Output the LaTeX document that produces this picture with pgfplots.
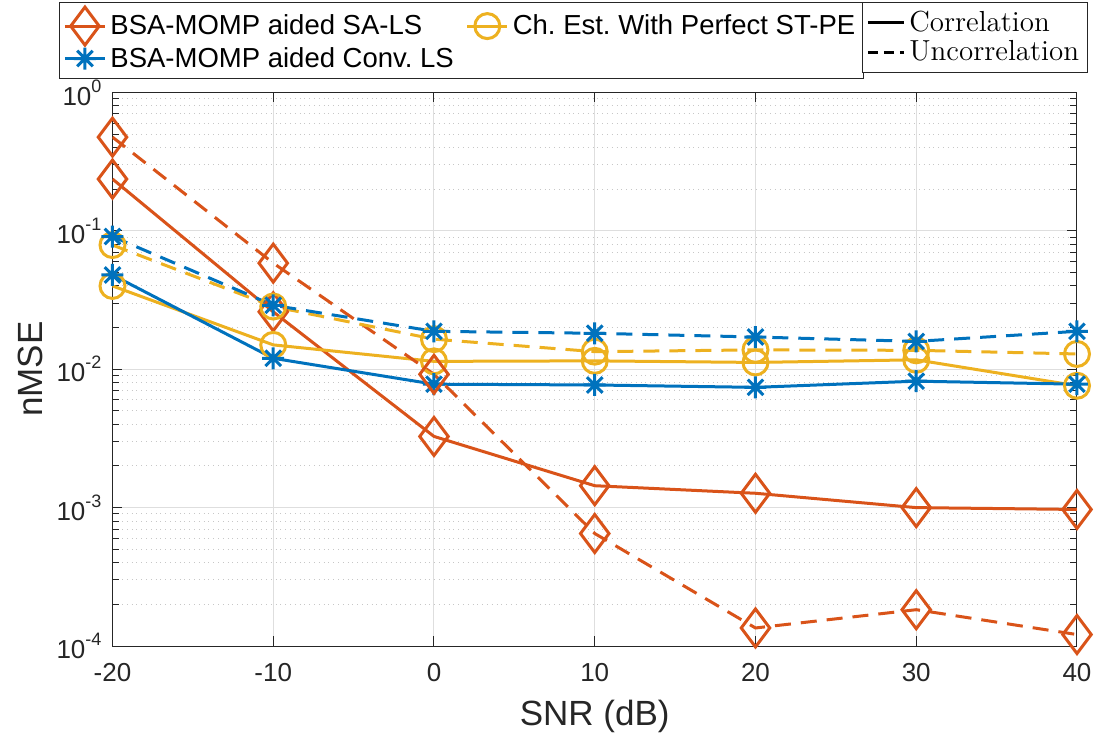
\documentclass[border=0pt]{standalone}
\usepackage{pgfplots}
\pgfplotsset{compat=1.18}
\usepackage{fontspec}
\newfontfamily\arial{Liberation Sans}
\definecolor{mblue}{rgb}{0,0.447,0.741}
\definecolor{mred}{rgb}{0.85,0.325,0.098}
\definecolor{myel}{rgb}{0.929,0.694,0.125}
\definecolor{axc}{rgb}{0.15,0.15,0.15}
\pgfdeclareplotmark{mstar}{%
  \pgfpathmoveto{\pgfqpoint{0pt}{\pgfplotmarksize}}\pgfpathlineto{\pgfqpoint{0pt}{-\pgfplotmarksize}}%
  \pgfpathmoveto{\pgfqpoint{\pgfplotmarksize}{0pt}}\pgfpathlineto{\pgfqpoint{-\pgfplotmarksize}{0pt}}%
  \pgfpathmoveto{\pgfqpoint{0.7071\pgfplotmarksize}{0.7071\pgfplotmarksize}}\pgfpathlineto{\pgfqpoint{-0.7071\pgfplotmarksize}{-0.7071\pgfplotmarksize}}%
  \pgfpathmoveto{\pgfqpoint{0.7071\pgfplotmarksize}{-0.7071\pgfplotmarksize}}\pgfpathlineto{\pgfqpoint{-0.7071\pgfplotmarksize}{0.7071\pgfplotmarksize}}%
  \pgfusepathqstroke}
\newcommand\tp[1]{10\raisebox{6.5pt}{\fontsize{9}{9}\selectfont #1}}
\frenchspacing
\begin{document}
\begin{tikzpicture}
\begin{axis}[
  scale only axis,
  width=482.25pt, height=276.75pt,
  xmin=-20, xmax=40, ymin=1e-4, ymax=1,
  ymode=log,
  xtick={-20,-10,0,10,20,30,40},
  xticklabels={-20,-10,0,10,20,30,40},
  ytick={1e-4,1e-3,1e-2,1e-1,1},
  yticklabels={\tp{-4},\tp{-3},\tp{-2},\tp{-1},\tp{0}},
  tick align=inside,
  major tick length=5pt, minor tick length=3.5pt,
  axis line style={axc, line width=0.5pt},
  every tick/.style={axc, line width=0.5pt},
  xmajorgrids, ymajorgrids, yminorgrids,
  major grid style={color=black!13, line width=0.5pt},
  minor grid style={color=black!22, dotted, line width=0.5pt},
  xticklabel style={font=\arial\fontsize{13}{15}\selectfont, text=axc, yshift=-5pt},
  yticklabel style={font=\arial\fontsize{13}{15}\selectfont, text=axc, xshift=-2pt},
  xlabel={SNR (dB)}, ylabel={nMSE},
  xlabel style={font=\arial\fontsize{17.5}{20}\selectfont, text=axc, at={(axis description cs:0.5,-0.1265)}, anchor=center},
  ylabel style={font=\arial\fontsize{17.5}{20}\selectfont, text=axc, at={(axis description cs:-0.0855,0.5)}, anchor=center},
  legend columns=2,
  legend cell align=left,
  legend image code/.code={\draw[mark repeat=2,mark phase=2] plot coordinates {(0pt,0pt) (10pt,0pt) (20pt,0pt)};},
  legend style={at={(-0.0555,1.1635)}, anchor=north west, draw=axc, line width=0.5pt,
    font=\arial\fontsize{13.75}{16}\selectfont\frenchspacing, inner xsep=2pt, inner ysep=2.3pt, row sep=-1pt,
    /tikz/every even column/.append style={column sep=4pt}},
]
\addplot[mred, line width=1.5pt, mark=diamond, mark size=9.5pt, mark options={solid}] coordinates {
(-20,0.237) (-10,0.026) (0,0.00327) (10,0.00144) (20,0.00127) (30,0.00100) (40,0.00097)};
\addlegendentry{BSA-MOMP aided SA-LS}
\addplot[myel, line width=1.5pt, mark=o, mark size=6.25pt, mark options={solid}] coordinates {
(-20,0.040) (-10,0.015) (0,0.0114) (10,0.0115) (20,0.0112) (30,0.0117) (40,0.0076)};
\addlegendentry{Ch. Est. With Perfect ST-PE}
\addplot[mblue, line width=1.5pt, mark=mstar, mark size=5.5pt, mark options={solid}] coordinates {
(-20,0.048) (-10,0.012) (0,0.0078) (10,0.0077) (20,0.0074) (30,0.0082) (40,0.0078)};
\addlegendentry{BSA-MOMP aided Conv. LS}
\addplot[mred, line width=1.5pt, dash pattern=on 8pt off 5pt, mark=diamond, mark size=9.5pt, mark options={solid}, forget plot] coordinates {
(-20,0.476) (-10,0.0585) (0,0.0092) (10,0.00065) (20,0.000135) (30,0.000183) (40,0.000121)};
\addplot[myel, line width=1.5pt, dash pattern=on 8pt off 5pt, mark=o, mark size=6.25pt, mark options={solid}, forget plot] coordinates {
(-20,0.079) (-10,0.0284) (0,0.0165) (10,0.0134) (20,0.0138) (30,0.0137) (40,0.0129)};
\addplot[mblue, line width=1.5pt, dash pattern=on 8pt off 5pt, mark=mstar, mark size=5.5pt, mark options={solid}, forget plot] coordinates {
(-20,0.091) (-10,0.029) (0,0.0188) (10,0.0182) (20,0.0171) (30,0.0159) (40,0.0188)};
\end{axis}
\begin{axis}[
  scale only axis,
  width=482.25pt, height=276.75pt,
  hide axis, xmin=0, xmax=1, ymin=0, ymax=1,
  legend cell align=left,
  legend image code/.code={\draw plot coordinates {(0pt,0pt) (18pt,0pt)};},
  legend style={at={(0.777,1.1635)}, anchor=north west, draw=axc, line width=0.5pt,
    font=\fontsize{14.5}{16}\selectfont, inner xsep=2pt, inner ysep=2.3pt, row sep=-1pt},
]
\addlegendimage{black, line width=1.5pt}
\addlegendentry{Correlation}
\addlegendimage{black, line width=1.5pt, dash pattern=on 5pt off 3pt}
\addlegendentry{Uncorrelation}
\end{axis}
\pgfresetboundingbox
\path[use as bounding box] (-56.25pt,-46pt) rectangle (495.25pt,323pt);
\end{tikzpicture}
\end{document}
